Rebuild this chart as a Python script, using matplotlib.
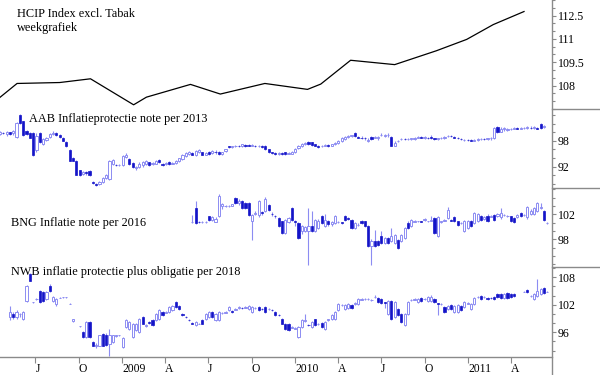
import numpy as np
import pandas as pd
import matplotlib
matplotlib.use("Agg")
import matplotlib.pyplot as plt
import matplotlib.dates as mdates
from matplotlib.lines import Line2D
from matplotlib.transforms import ScaledTranslation

plt.rcParams['font.family'] = ['Liberation Serif', 'DejaVu Serif']

nan = np.nan

# ---------------- data ----------------
week_start = '2008-04-18'
n_weeks = 166

hcip_dates = ['2008-04-18', '2008-05-24', '2008-08-22', '2008-10-26', '2009-01-25',
              '2009-02-21', '2009-05-25', '2009-07-27', '2009-10-29', '2010-01-27',
              '2010-02-24', '2010-04-28', '2010-07-30', '2010-10-26', '2010-12-29',
              '2011-02-23', '2011-04-29']
hcip_values = [107.25, 108.14, 108.2, 108.44, 106.77, 107.26, 108.08, 107.46, 108.14,
               107.76, 108.1, 109.63, 109.35, 110.24, 110.97, 111.92, 112.76]

# AAB Inflatieprotectie note per 2013 (weeks 0..164)
aab_start = 0
aab_open = [99.6, 99.9, 99.6, 100.0, 99.8, 98.9, 104.0, 102.6, 100.4, 99.8,
            99.8, 95.9, 99.9, 97.2, 98.2, 98.9, 99.6, 99.8, 99.4, 98.7,
            97.7, 95.9, 94.0, 93.3, 91.2, 90.2, 90.6, 91.0, 88.3, 87.9,
            88.0, 88.3, 89.2, 89.0, 92.5, 92.4, 92.3, 92.4, 94.3, 93.8,
            92.9, 91.6, 91.9, 92.3, 92.6, 93.0, 92.5, 92.7, 93.5, 92.6,
            92.5, 93.0, 92.7, 92.8, 93.3, 93.8, 94.5, 95.0, 95.2, 94.7,
            95.5, 95.3, 94.8, 95.4, 95.1, 95.5, 95.4, 94.9, 95.6, 96.7,
            96.6, 96.8, 96.9, 96.9, 97.1, 97.0, 96.9, 96.9, 96.8, 96.8,
            96.8, 96.0, 95.3, 95.2, 95.0, 95.1, 95.3, 95.0, 95.0, 95.3,
            96.4, 96.8, 97.3, 97.8, 97.7, 97.2, 96.9, 96.8, 96.9, 97.0,
            96.9, 97.3, 97.6, 98.0, 98.5, 99.0, 99.1, 99.9, 99.0, 98.8,
            98.7, 97.9, 99.0, 98.8, 98.6, 99.3, 99.2, 99.3, 98.9, 96.9,
            97.9, 98.4, 98.5, 98.4, 98.5, 98.5, 98.8, 98.9, 98.8, 98.8,
            99.0, 98.6, 98.5, 98.6, 98.7, 99.1, 99.2, 99.0, 98.7, 98.5,
            98.3, 98.3, 98.2, 98.1, 98.3, 98.4, 98.5, 98.5, 98.6, 98.7,
            101.2, 100.2, 100.8, 100.6, 100.7, 100.9, 101.0, 100.9, 101.0, 101.0,
            101.1, 101.0, 101.1, 102.0, 101.3]
aab_high = [100.4, 100.0, 100.3, 100.2, 100.5, 102.5, 104.3, 102.8, 100.6, 100.0,
            100.0, 99.8, 100.1, 98.6, 99.0, 99.9, 100.3, 100.1, 99.6, 98.9,
            97.9, 96.0, 94.2, 93.5, 91.3, 91.0, 90.9, 91.1, 88.5, 88.2,
            88.5, 89.6, 90.3, 93.6, 93.8, 92.5, 92.6, 94.8, 95.2, 94.0,
            93.0, 92.2, 93.0, 93.4, 93.6, 93.1, 93.0, 93.5, 93.7, 92.8,
            93.1, 93.2, 93.1, 93.6, 94.1, 95.0, 95.4, 95.7, 95.4, 95.9,
            96.2, 95.5, 95.3, 95.6, 95.8, 95.8, 95.6, 95.5, 96.2, 96.9,
            96.9, 97.1, 97.1, 97.4, 97.4, 97.2, 97.2, 97.1, 97.0, 97.0,
            97.0, 96.1, 95.5, 95.4, 95.3, 95.3, 95.4, 95.4, 95.7, 96.3,
            97.1, 97.6, 97.8, 98.0, 97.8, 97.4, 97.1, 97.0, 97.2, 97.2,
            97.4, 97.7, 98.3, 98.9, 99.2, 99.4, 99.5, 100.1, 99.2, 99.1,
            98.9, 98.6, 99.2, 99.2, 99.1, 99.8, 99.6, 99.9, 99.1, 97.9,
            98.2, 98.7, 98.7, 98.7, 98.8, 99.0, 99.1, 99.1, 99.1, 99.0,
            99.3, 98.8, 98.8, 98.9, 99.2, 99.4, 99.4, 99.2, 98.9, 98.7,
            98.5, 98.4, 98.4, 98.4, 98.6, 98.7, 98.7, 98.8, 99.0, 101.3,
            101.4, 101.2, 101.2, 101.0, 101.0, 101.2, 101.2, 101.3, 101.3, 101.4,
            101.4, 101.4, 101.3, 102.1, 101.7]
aab_low = [99.4, 99.6, 99.2, 99.3, 99.5, 98.8, 102.0, 99.2, 99.3, 98.6,
           94.5, 95.5, 97.6, 97.0, 98.0, 98.7, 99.4, 99.2, 98.7, 97.9,
           96.5, 93.2, 93.2, 90.0, 89.7, 90.0, 90.1, 89.7, 88.0, 87.5,
           87.6, 88.1, 89.0, 88.8, 92.3, 92.2, 92.2, 92.2, 94.0, 92.4,
           91.6, 91.2, 91.6, 92.0, 92.4, 92.2, 92.3, 92.5, 92.8, 92.2,
           92.3, 92.4, 92.5, 92.6, 93.1, 93.6, 94.3, 94.8, 94.6, 94.5,
           95.2, 94.6, 94.6, 94.7, 94.9, 95.0, 94.7, 94.6, 95.4, 96.4,
           96.3, 96.6, 96.6, 96.6, 96.6, 96.7, 96.7, 96.6, 96.6, 96.4,
           95.8, 95.1, 94.9, 94.8, 94.8, 94.8, 94.8, 94.9, 94.9, 95.1,
           96.2, 96.6, 97.1, 97.1, 96.9, 96.7, 96.4, 96.6, 96.7, 96.6,
           96.7, 97.1, 97.4, 97.8, 98.3, 98.8, 98.9, 99.0, 98.6, 98.4,
           98.3, 97.7, 98.2, 98.6, 98.3, 99.1, 99.0, 99.0, 96.7, 96.7,
           97.7, 98.2, 98.2, 98.2, 98.3, 98.3, 98.6, 98.6, 98.5, 98.5,
           98.4, 98.3, 98.3, 98.4, 98.5, 98.9, 99.0, 98.6, 98.4, 98.2,
           98.1, 98.0, 97.9, 98.0, 98.1, 98.2, 98.2, 98.3, 98.3, 98.5,
           99.8, 100.0, 100.3, 100.3, 100.5, 100.7, 100.8, 100.7, 100.8, 100.7,
           100.8, 100.8, 100.7, 100.9, 101.1]
aab_close = [100.1, 99.8, 100.2, 99.7, 100.3, 102.2, 102.3, 99.5, 99.6, 98.8,
             94.6, 99.2, 97.8, 98.4, 98.7, 99.6, 99.9, 99.4, 99.0, 98.1,
             96.8, 93.4, 93.4, 90.1, 89.9, 90.6, 90.4, 89.9, 88.2, 87.7,
             88.3, 89.3, 90.1, 93.3, 93.5, 92.3, 92.4, 94.5, 94.8, 92.6,
             91.8, 91.9, 92.7, 93.0, 93.3, 92.4, 92.8, 93.3, 93.0, 92.4,
             92.9, 92.6, 92.9, 93.4, 93.9, 94.8, 95.2, 95.4, 94.8, 95.7,
             95.9, 94.8, 95.1, 94.9, 95.6, 95.3, 94.9, 95.3, 96.0, 96.6,
             96.7, 96.9, 96.8, 97.2, 96.9, 96.9, 97.0, 96.8, 96.8, 96.5,
             96.0, 95.3, 95.2, 95.0, 95.1, 95.0, 94.9, 95.2, 95.5, 96.1,
             96.9, 97.4, 97.5, 97.3, 97.1, 96.9, 96.6, 96.9, 97.0, 96.8,
             97.2, 97.5, 98.1, 98.6, 98.9, 99.1, 99.3, 99.2, 98.8, 98.6,
             98.6, 98.3, 98.4, 99.0, 98.9, 99.4, 99.3, 99.4, 96.9, 97.6,
             98.0, 98.5, 98.4, 98.5, 98.6, 98.8, 98.9, 98.8, 98.9, 98.7,
             98.6, 98.5, 98.6, 98.7, 99.0, 99.2, 99.1, 98.8, 98.6, 98.4,
             98.3, 98.2, 98.1, 98.2, 98.4, 98.5, 98.4, 98.6, 98.7, 101.0,
             100.0, 100.8, 101.0, 100.8, 100.8, 101.0, 100.9, 101.0, 101.1, 101.2,
             101.0, 101.2, 100.9, 101.1, 101.4]

# BNG Inflatie note per 2016 (weeks 58..165)
bng_start = 58
bng_open = [100.7, 103.0, 100.8, 100.7, 100.7, 101.7, 101.1, 100.8, 101.7, 103.3,
            103.3, 103.3, 103.4, 104.6, 103.8, 104.1, 103.8, 103.8, 100.9, 102.1,
            101.9, 102.3, 102.5, 103.5, 102.1, 101.8, 101.4, 100.9, 99.0, 100.8,
            103.0, 100.9, 100.6, 99.3, 99.4, 99.3, 100.1, 99.3, 99.8, 101.7,
            100.1, 100.9, 100.4, 100.6, 100.8, 100.7, 101.7, 101.4, 101.1, 99.8,
            100.3, 100.9, 100.9, 100.1, 97.0, 97.8, 97.7, 98.5, 97.4, 98.2,
            97.7, 97.4, 97.9, 97.8, 98.2, 100.6, 100.1, 100.8, 100.9, 100.9,
            101.1, 100.9, 101.0, 101.4, 98.5, 100.8, 101.0, 101.4, 101.1, 101.5,
            100.9, 100.6, 99.3, 99.8, 100.9, 100.6, 100.9, 101.7, 101.3, 101.8,
            101.6, 101.9, 101.7, 101.5, 101.9, 101.7, 101.7, 101.4, 101.6, 102.2,
            101.9, 101.5, 102.1, 102.05, 102.5, 103.0, 102.5, 100.6]
bng_high = [101.9, 104.2, 100.9, 100.9, 100.9, 101.8, 101.7, 101.5, 105.2, 103.8,
            103.5, 103.5, 103.7, 104.8, 104.4, 104.3, 104.0, 104.0, 102.1, 102.5,
            104.3, 102.5, 104.7, 103.7, 102.3, 101.9, 101.6, 101.0, 101.3, 101.6,
            103.2, 101.1, 100.8, 100.3, 100.2, 103.0, 102.5, 101.3, 101.2, 101.9,
            102.0, 101.1, 101.0, 101.9, 101.0, 100.8, 101.9, 101.6, 101.3, 100.8,
            100.6, 101.1, 101.0, 100.3, 98.0, 99.5, 97.9, 99.3, 98.4, 98.4,
            99.8, 98.9, 98.1, 98.9, 100.0, 100.9, 101.3, 101.1, 101.0, 101.0,
            101.4, 101.0, 101.7, 101.6, 101.7, 101.0, 101.3, 103.2, 101.3, 101.7,
            101.0, 100.7, 101.1, 101.1, 101.1, 102.4, 102.2, 101.9, 101.8, 102.0,
            101.9, 102.1, 102.2, 103.0, 102.1, 101.9, 101.8, 101.5, 102.1, 102.4,
            102.1, 103.3, 102.8, 103.2, 104.0, 103.8, 102.7, 100.7]
bng_low = [100.6, 100.5, 100.6, 100.6, 100.6, 101.0, 100.9, 100.7, 101.5, 102.9,
           103.1, 103.2, 103.3, 103.6, 103.5, 102.9, 102.8, 101.7, 97.9, 101.9,
           101.6, 101.9, 102.3, 102.5, 101.8, 101.4, 99.9, 98.8, 98.8, 100.6,
           100.9, 100.1, 98.0, 98.9, 99.1, 93.9, 99.2, 99.1, 99.6, 100.4,
           99.9, 100.2, 100.2, 100.4, 100.6, 100.4, 100.9, 101.1, 99.6, 99.6,
           100.1, 100.4, 99.9, 96.7, 93.9, 96.8, 96.9, 97.2, 97.2, 97.2,
           97.5, 97.2, 96.4, 97.6, 98.0, 99.6, 99.9, 100.7, 100.7, 100.7,
           101.0, 100.7, 100.9, 98.8, 98.3, 100.6, 100.9, 101.2, 100.9, 100.7,
           100.2, 100.5, 99.1, 99.6, 99.9, 100.4, 100.7, 100.9, 101.1, 100.8,
           101.5, 100.9, 101.5, 101.3, 101.7, 101.5, 100.7, 100.6, 101.4, 101.5,
           101.7, 101.3, 101.9, 101.9, 102.3, 102.8, 100.9, 100.5]
bng_close = [100.8, 100.6, 100.7, 100.7, 100.8, 101.1, 101.5, 101.3, 105.0, 103.6,
             103.3, 103.4, 103.6, 103.8, 104.1, 103.0, 103.0, 101.9, 101.9, 102.2,
             104.1, 102.2, 104.5, 102.7, 102.0, 101.7, 100.1, 99.0, 101.1, 101.4,
             101.1, 100.8, 98.2, 100.1, 100.0, 100.1, 99.4, 101.1, 101.0, 100.6,
             101.1, 100.4, 100.8, 101.7, 100.8, 100.6, 101.1, 101.3, 99.8, 100.6,
             100.3, 100.6, 100.1, 96.9, 97.8, 97.0, 97.1, 97.4, 98.2, 97.4,
             98.5, 98.7, 96.6, 98.7, 99.8, 99.8, 101.1, 100.9, 100.9, 100.8,
             101.25, 100.9, 101.1, 99.0, 101.5, 100.9, 101.1, 102.7, 101.0, 100.9,
             100.3, 100.6, 100.9, 100.9, 100.1, 102.2, 102.0, 101.1, 101.6, 101.0,
             101.7, 101.1, 102.0, 102.2, 101.9, 101.7, 100.9, 100.8, 101.9, 101.7,
             101.9, 103.1, 102.6, 103.0, 103.8, 103.1, 101.1, 100.6]

# NWB inflatie protectie plus obligatie per 2018 (weeks 3..165)
nwb_start = 3
nwb_open = [99.3, 100.0, 99.3, 99.9, 98.9, 102.9, 108.8, 102.6, 103.2, 105.1,
            104.75, 103.3, 106.05, 102.9, 102.2, 103.5, 103.6, 103.6, 102.2, 98.4,
            nan, 97.3, 96.0, 94.9, 98.2, 93.8, 93.1, 93.1, 95.7, 95.3,
            93.5, 93.8, 95.2, 95.3, 92.8, 97.1, 96.8, 94.9, 96.4, 96.0,
            99.3, 97.4, 98.3, 98.6, 98.6, 98.9, 100.4, 100.3, 100.4, 100.8,
            102.6, 101.8, 99.9, 99.4, 98.7, 98.0, 97.5, 97.9, 98.6, 98.9,
            99.3, 100.5, 98.6, 98.6, 100.1, 100.3, 100.8, 100.7, 100.9, 101.2,
            101.4, 101.4, 101.1, 100.4, 101.2, 101.5, 101.1, 101.5, 101.0, 100.9,
            100.4, 99.8, 98.9, 97.9, 97.9, 97.0, 96.8, 94.9, 97.1, 98.5,
            97.6, 97.1, 98.8, 97.8, 98.1, 96.8, 98.7, 98.9, 98.9, 100.8,
            101.9, 101.1, 101.3, 102.0, 102.2, 102.2, 103.1, 103.2, 103.2, 103.1,
            103.6, 103.4, 103.3, 102.5, 100.0, 102.9, 99.3, 101.1, 100.0, 97.6,
            100.0, 103.0, 103.1, 102.6, 103.4, 103.2, 102.9, 102.9, 103.3, 102.3,
            102.1, 101.5, 101.1, 102.0, 100.4, 100.4, 101.8, 101.5, 102.2, 101.1,
            102.2, 103.6, 104.0, 103.6, 103.4, 103.5, 103.7, 104.4, 104.4, 103.4,
            104.6, 104.4, 104.4, nan, nan, 104.8, 105.3, 104.0, 103.3, 104.0,
            104.4, 105.6, 104.9]
nwb_high = [101.8, 100.4, 100.8, 100.3, 100.6, 106.4, 109.0, 102.7, 103.5, 105.3,
            105.0, 105.0, 106.6, 103.9, 103.5, 103.6, 103.7, 103.7, 102.3, 99.0,
            nan, 97.4, 96.2, 98.4, 98.4, 94.0, 93.6, 95.5, 95.9, 95.9,
            96.8, 95.5, 95.5, 95.4, 95.0, 98.8, 98.4, 98.1, 98.1, 99.1,
            99.5, 97.8, 98.5, 98.8, 100.2, 101.0, 100.6, 100.6, 101.7, 102.0,
            102.8, 102.0, 100.1, 99.6, 98.9, 98.2, 98.4, 98.1, 98.8, 100.2,
            100.6, 100.7, 100.2, 100.6, 100.4, 100.6, 101.7, 100.9, 101.3, 101.7,
            101.6, 101.7, 102.0, 101.7, 101.5, 101.7, 101.3, 101.7, 101.3, 101.0,
            100.6, 100.0, 99.1, 98.1, 98.1, 97.4, 97.1, 97.3, 98.8, 100.0,
            97.8, 98.4, 99.0, 98.1, 98.3, 98.4, 99.0, 99.9, 100.6, 102.4,
            102.2, 102.2, 102.4, 102.2, 102.6, 103.5, 103.4, 103.4, 103.4, 103.3,
            104.2, 103.6, 103.5, 102.7, 103.1, 103.1, 102.8, 101.3, 100.2, 100.2,
            102.9, 103.3, 103.4, 103.5, 103.6, 103.5, 103.9, 104.2, 103.5, 102.4,
            102.4, 101.7, 102.0, 102.2, 102.0, 102.2, 102.0, 102.8, 102.5, 102.4,
            103.6, 103.9, 104.2, 103.9, 103.6, 103.7, 103.9, 104.6, 104.6, 104.6,
            104.8, 104.6, 104.6, nan, nan, 105.1, 105.5, 104.2, 104.6, 107.7,
            105.7, 105.8, 105.0]
nwb_low = [98.6, 99.0, 99.0, 99.3, 98.6, 102.7, 107.1, 102.4, 103.0, 102.4,
           102.7, 103.1, 104.9, 102.7, 101.8, 103.4, 103.5, 103.5, 102.1, 98.3,
           nan, 97.2, 94.7, 94.7, 94.7, 92.9, 92.6, 92.9, 92.9, 93.1,
           90.8, 93.6, 95.0, 95.2, 92.6, 96.9, 96.6, 94.7, 96.2, 95.8,
           97.7, 97.2, 97.9, 97.3, 98.4, 98.7, 99.5, 100.1, 100.2, 100.6,
           101.3, 100.9, 99.6, 99.1, 98.4, 97.7, 97.3, 97.7, 97.7, 98.7,
           99.1, 99.1, 98.4, 98.4, 99.9, 100.1, 100.6, 100.3, 100.8, 101.0,
           101.1, 101.3, 100.9, 100.2, 101.0, 100.6, 100.8, 100.2, 100.9, 100.6,
           99.5, 99.5, 97.7, 96.6, 96.2, 96.9, 96.7, 94.7, 96.9, 98.3,
           97.3, 96.9, 97.3, 97.6, 96.9, 96.6, 98.5, 98.7, 98.7, 100.6,
           101.8, 100.9, 101.1, 101.1, 102.0, 102.0, 103.0, 103.0, 103.0, 102.9,
           103.4, 102.4, 102.2, 101.3, 99.8, 98.7, 99.1, 99.6, 98.0, 97.4,
           99.8, 102.9, 103.0, 102.4, 102.7, 103.1, 102.7, 102.7, 102.4, 99.7,
           102.0, 100.2, 100.9, 100.9, 100.2, 100.2, 100.6, 101.3, 102.1, 100.9,
           102.0, 103.5, 103.1, 103.5, 103.1, 103.2, 103.1, 103.5, 103.2, 103.2,
           103.2, 103.5, 103.7, nan, nan, 104.7, 104.6, 103.7, 103.1, 103.7,
           104.2, 104.4, 104.8]
nwb_close = [100.4, 99.3, 100.4, 100.0, 100.4, 106.2, 107.3, 102.6, 103.3, 102.6,
             102.9, 104.75, 105.1, 103.7, 103.3, 103.5, 103.6, 103.6, 102.2, 98.9,
             nan, 97.3, 94.9, 98.2, 94.9, 93.1, 93.2, 95.3, 93.1, 93.3,
             95.3, 95.3, 95.3, 95.3, 94.7, 98.6, 98.2, 97.9, 97.9, 98.9,
             97.9, 97.5, 98.1, 97.5, 100.0, 100.8, 99.7, 100.4, 101.5, 101.8,
             101.5, 101.1, 99.8, 99.3, 98.6, 97.9, 98.2, 97.9, 97.9, 100.0,
             100.4, 99.3, 100.0, 100.4, 100.2, 100.4, 101.5, 100.5, 101.1, 101.5,
             101.3, 101.5, 101.8, 101.5, 101.3, 100.8, 101.0, 100.4, 101.1, 100.8,
             99.7, 99.7, 97.9, 96.8, 96.4, 97.1, 96.9, 97.1, 98.6, 98.6,
             97.5, 98.2, 97.5, 97.9, 97.1, 98.2, 98.8, 99.7, 100.4, 102.2,
             102.0, 102.0, 102.2, 101.3, 102.4, 103.3, 103.2, 103.2, 103.2, 103.1,
             103.7, 102.6, 102.4, 102.3, 102.9, 98.9, 102.6, 99.8, 98.2, 100.0,
             102.7, 103.1, 103.2, 103.3, 102.9, 103.3, 103.7, 103.7, 102.6, 102.2,
             102.2, 100.4, 101.8, 101.1, 101.8, 102.0, 100.8, 102.6, 102.3, 102.2,
             103.4, 103.7, 103.3, 103.7, 103.3, 103.4, 103.3, 103.7, 103.4, 104.4,
             103.4, 103.7, 103.9, nan, nan, 104.9, 104.75, 104.0, 104.4, 105.1,
             105.5, 104.6, 104.9]

titles = ['HCIP Index excl. Tabak', 'AAB Inflatieprotectie note per 2013',
          'BNG Inflatie note per 2016', 'NWB inflatie protectie plus obligatie per 2018']
subtitle = 'weekgrafiek'

x_tick_dates = ['2008-07-01', '2008-10-01', '2009-01-01', '2009-04-01', '2009-07-01',
                '2009-10-01', '2010-01-01', '2010-04-01', '2010-07-01', '2010-10-01',
                '2011-01-01', '2011-04-01']
x_tick_labels = ['J', 'O', '2009', 'A', 'J', 'O', '2010', 'A', 'J', 'O', '2011', 'A']

hcip_ticks = [108, 109.5, 111, 112.5]
hcip_ticklabels = ['108', '109.5', '111', '112.5']
aab_ticks = [92, 98]
aab_ticklabels = ['92', '98']
bng_ticks = [98, 102]
bng_ticklabels = ['98', '102']
nwb_ticks = [96, 102, 108]
nwb_ticklabels = ['96', '102', '108']

# ---------------- figure ----------------
W, H = 600, 375
PT = 72 / 100.0  # points per pixel at dpi 100
fig = plt.figure(figsize=(6, 3.75), dpi=100)
fig.patch.set_facecolor('white')

AX_RIGHT = 552
panels_px = [(0, 109), (109, 188), (188, 267), (267, 357)]
axes = []
for top, bot in panels_px:
    ax = fig.add_axes([0, 1 - bot / H, AX_RIGHT / W, (bot - top) / H])
    ax.set_facecolor('none')
    for s in ax.spines.values():
        s.set_visible(False)
    axes.append(ax)
ax1, ax2, ax3, ax4 = axes

weeks = pd.date_range(week_start, periods=n_weeks, freq='7D')
wnum = mdates.date2num(weeks.to_pydatetime())
x0 = mdates.date2num(pd.Timestamp(week_start).to_pydatetime())
x1 = x0 + AX_RIGHT / 0.4738

DARK = '#1414c8'
LIGHT = '#8c8cf2'
GRID = '#8a8a8a'


def candles(ax, start, o, h, l, c):
    o = np.asarray(o, float); h = np.asarray(h, float)
    l = np.asarray(l, float); c = np.asarray(c, float)
    xs = wnum[start:start + len(o)]
    ok = ~np.isnan(o)
    ax.vlines(xs[ok], l[ok], h[ok], color=LIGHT, lw=0.8, zorder=1)
    up = ok & (c >= o)
    dn = ok & (c < o)
    ax.bar(xs[up], c[up] - o[up], bottom=o[up], width=4.6, facecolor='white',
           edgecolor=LIGHT, linewidth=0.7, zorder=2)
    ax.bar(xs[dn], o[dn] - c[dn], bottom=c[dn], width=4.6, facecolor=DARK,
           edgecolor=DARK, linewidth=0.5, zorder=2)


# top: HCIP line
hx = mdates.date2num(pd.to_datetime(hcip_dates).to_pydatetime())
ax1.plot(hx, hcip_values, color='black', lw=0.9)
ax1.set_ylim(106.62, 113.16)
ax1.set_yticks(hcip_ticks)
ax1.set_yticklabels(hcip_ticklabels)
ax1.set_yticks(np.arange(106.5, 113.6, 0.5), minor=True)

candles(ax2, aab_start, aab_open, aab_high, aab_low, aab_close)
ax2.set_ylim(86.96, 105.5)
ax2.set_yticks(aab_ticks)
ax2.set_yticklabels(aab_ticklabels)
ax2.set_yticks(np.arange(88, 105.5, 2), minor=True)

candles(ax3, bng_start, bng_open, bng_high, bng_low, bng_close)
ax3.set_ylim(93.57, 106.2)
ax3.set_yticks(bng_ticks)
ax3.set_yticklabels(bng_ticklabels)
ax3.set_yticks(98 + np.arange(-3, 7) * 4 / 3, minor=True)

candles(ax4, nwb_start, nwb_open, nwb_high, nwb_low, nwb_close)
ax4.set_ylim(90.6, 110.25)
ax4.set_yticks(nwb_ticks)
ax4.set_yticklabels(nwb_ticklabels)
ax4.set_yticks(np.arange(92, 110.5, 2), minor=True)

for ax in axes:
    ax.set_xlim(x0, x1)
    ax.yaxis.tick_right()
    ax.tick_params(axis='y', which='major', length=4 * PT, width=0.8, color=GRID,
                   pad=1.5 * PT, labelsize=8.6, labelcolor='black')
    ax.tick_params(axis='y', which='minor', length=3 * PT, width=0.8, color=GRID)
    ax.tick_params(axis='x', which='both', bottom=False, labelbottom=False)

# x axis on the bottom panel
ax4.spines['bottom'].set_visible(True)
ax4.spines['bottom'].set_color(GRID)
ax4.spines['bottom'].set_linewidth(1.0)
xt = mdates.date2num(pd.to_datetime(x_tick_dates).to_pydatetime())
ax4.set_xticks(xt)
ax4.set_xticklabels(x_tick_labels)
ax4.tick_params(axis='x', which='major', bottom=True, labelbottom=True,
                length=5.5 * PT, width=0.8, color=GRID, pad=1.0 * PT, labelsize=8.4)
offset = ScaledTranslation(0.3 / 100, 0, fig.dpi_scale_trans)
for lbl in ax4.get_xticklabels():
    lbl.set_horizontalalignment('left')
    lbl.set_transform(lbl.get_transform() + offset)

# frame lines
fig.add_artist(Line2D([AX_RIGHT / W, AX_RIGHT / W], [0, 1], transform=fig.transFigure,
                      color=GRID, lw=1.0))
for ypx in (109, 188, 267):
    fig.add_artist(Line2D([AX_RIGHT / W, 1], [1 - ypx / H, 1 - ypx / H],
                          transform=fig.transFigure, color=GRID, lw=1.0))

# panel titles
title_pos = [(17, 17), (29, 122), (11, 226), (11, 275.5)]
for (px, py), t in zip(title_pos, titles):
    fig.text(px / W, 1 - py / H, t, fontsize=8.8, color='black', va='baseline', ha='left')
fig.text(17 / W, 1 - 31 / H, subtitle, fontsize=8.8, color='black', va='baseline', ha='left')

fig.savefig('out.png', dpi=100, facecolor='white')
